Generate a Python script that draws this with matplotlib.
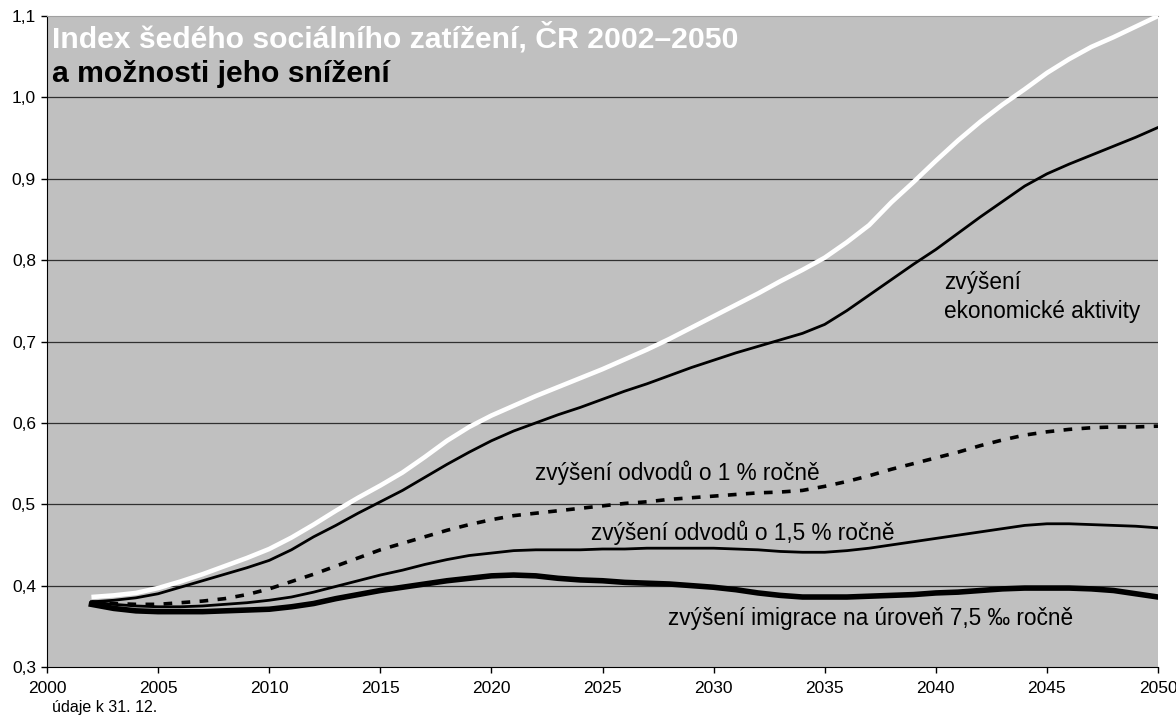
import numpy as np
import matplotlib
matplotlib.use("Agg")
import matplotlib.pyplot as plt
from matplotlib.ticker import FixedLocator

plt.rcParams['font.family'] = ['Liberation Sans', 'DejaVu Sans']

# ---- data (yearly) ----
years = list(range(2002, 2051))

zakladni = [0.386, 0.388, 0.391, 0.397, 0.405, 0.414, 0.424, 0.434, 0.445, 0.459,
            0.475, 0.492, 0.508, 0.523, 0.539, 0.558, 0.578, 0.595, 0.609, 0.621,
            0.633, 0.644, 0.655, 0.666, 0.678, 0.690, 0.703, 0.717, 0.731, 0.745,
            0.759, 0.774, 0.788, 0.803, 0.822, 0.843, 0.871, 0.896, 0.922, 0.947,
            0.970, 0.991, 1.010, 1.030, 1.047, 1.062, 1.074, 1.087, 1.100]
ekon_aktivita = [0.380, 0.382, 0.385, 0.390, 0.398, 0.406, 0.414, 0.422, 0.431, 0.444,
                 0.460, 0.474, 0.489, 0.503, 0.517, 0.533, 0.549, 0.564, 0.578, 0.590,
                 0.600, 0.610, 0.619, 0.629, 0.639, 0.648, 0.658, 0.668, 0.677, 0.686,
                 0.694, 0.702, 0.710, 0.721, 0.738, 0.757, 0.776, 0.795, 0.813, 0.833,
                 0.853, 0.872, 0.891, 0.906, 0.918, 0.929, 0.940, 0.951, 0.963]
odvody_1 = [0.380, 0.378, 0.377, 0.377, 0.379, 0.381, 0.384, 0.389, 0.396, 0.405,
            0.414, 0.424, 0.434, 0.444, 0.452, 0.460, 0.468, 0.475, 0.481, 0.486,
            0.489, 0.492, 0.495, 0.498, 0.501, 0.503, 0.506, 0.508, 0.510, 0.512,
            0.514, 0.515, 0.517, 0.522, 0.528, 0.535, 0.543, 0.550, 0.557, 0.564,
            0.572, 0.579, 0.585, 0.589, 0.592, 0.594, 0.595, 0.595, 0.596]
odvody_15 = [0.380, 0.377, 0.375, 0.374, 0.374, 0.375, 0.377, 0.379, 0.382, 0.386,
             0.392, 0.399, 0.406, 0.413, 0.419, 0.426, 0.432, 0.437, 0.440, 0.443,
             0.444, 0.444, 0.444, 0.445, 0.445, 0.446, 0.446, 0.446, 0.446, 0.445,
             0.444, 0.442, 0.441, 0.441, 0.443, 0.446, 0.450, 0.454, 0.458, 0.462,
             0.466, 0.470, 0.474, 0.476, 0.476, 0.475, 0.474, 0.473, 0.471]
imigrace = [0.377, 0.372, 0.369, 0.368, 0.368, 0.368, 0.369, 0.370, 0.371, 0.374,
            0.378, 0.384, 0.389, 0.394, 0.398, 0.402, 0.406, 0.409, 0.412, 0.413,
            0.412, 0.409, 0.407, 0.406, 0.404, 0.403, 0.402, 0.400, 0.398, 0.395,
            0.391, 0.388, 0.386, 0.386, 0.386, 0.387, 0.388, 0.389, 0.391, 0.392,
            0.394, 0.396, 0.397, 0.397, 0.397, 0.396, 0.394, 0.390, 0.386]

y_ticks = [0.3, 0.4, 0.5, 0.6, 0.7, 0.8, 0.9, 1.0, 1.1]
y_labels = ["0,3", "0,4", "0,5", "0,6", "0,7", "0,8", "0,9", "1,0", "1,1"]
x_ticks = [2000, 2005, 2010, 2015, 2020, 2025, 2030, 2035, 2040, 2045, 2050]

# ---- figure ----
fig = plt.figure(figsize=(11.76, 7.15), dpi=100)
ax = fig.add_axes([47/1176, 1 - 667/715, 1111/1176, 651/715])
ax.set_facecolor('#c0c0c0')

ax.set_xlim(2000, 2050)
ax.set_ylim(0.3, 1.1)

ax.yaxis.set_major_locator(FixedLocator(y_ticks))
ax.set_yticklabels(y_labels)
ax.xaxis.set_major_locator(FixedLocator(x_ticks))
ax.set_xticklabels([str(x) for x in x_ticks])
ax.tick_params(axis='both', direction='out', length=4, width=1, color='black',
               labelsize=12.5, pad=4)
ax.tick_params(axis='x', pad=6)

for y in y_ticks[1:-1]:
    ax.axhline(y, color='#303030', lw=0.9, zorder=1)

ax.spines['right'].set_visible(False)
ax.spines['top'].set_color('#a0a0a0')
ax.spines['left'].set_color('black')
ax.spines['bottom'].set_color('black')

# lines
ax.plot(years, zakladni, color='white', lw=3.3, solid_joinstyle='round',
        solid_capstyle='butt', zorder=5)
ax.plot(years, ekon_aktivita, color='black', lw=2.0, solid_joinstyle='round', zorder=4)
ax.plot(years, odvody_1, color='black', lw=2.6, dashes=(2.4, 2.6), zorder=3)
ax.plot(years, odvody_15, color='black', lw=2.0, solid_joinstyle='round', zorder=3)
ax.plot(years, imigrace, color='black', lw=4.0, solid_joinstyle='round', zorder=3)

# labels
ax.text(2040.36, 0.764, "zvýšení", fontsize=16.3, va='baseline', ha='left')
ax.text(2040.36, 0.729, "ekonomické aktivity", fontsize=16.3, va='baseline', ha='left')
ax.text(2021.94, 0.530, "zvýšení odvodů o 1 % ročně", fontsize=16.3, va='baseline', ha='left')
ax.text(2024.46, 0.456, "zvýšení odvodů o 1,5 % ročně", fontsize=16.3, va='baseline', ha='left')
ax.text(2027.97, 0.352, "zvýšení imigrace na úroveň 7,5 ‰ ročně", fontsize=16.3,
        va='baseline', ha='left')

# title inside the plot
ax.text(0.0045, 0.952, "Index šedého sociálního zatížení, ČR 2002–2050", transform=ax.transAxes,
        fontsize=21.7, fontweight='bold', color='white', va='baseline', ha='left')
ax.text(0.0045, 0.899, "a možnosti jeho snížení", transform=ax.transAxes,
        fontsize=21.7, fontweight='bold', color='black', va='baseline', ha='left')

fig.text(52/1176, 3/715, "údaje k 31. 12.", fontsize=11.5, va='baseline', ha='left')

fig.savefig("out.png", dpi=100)
